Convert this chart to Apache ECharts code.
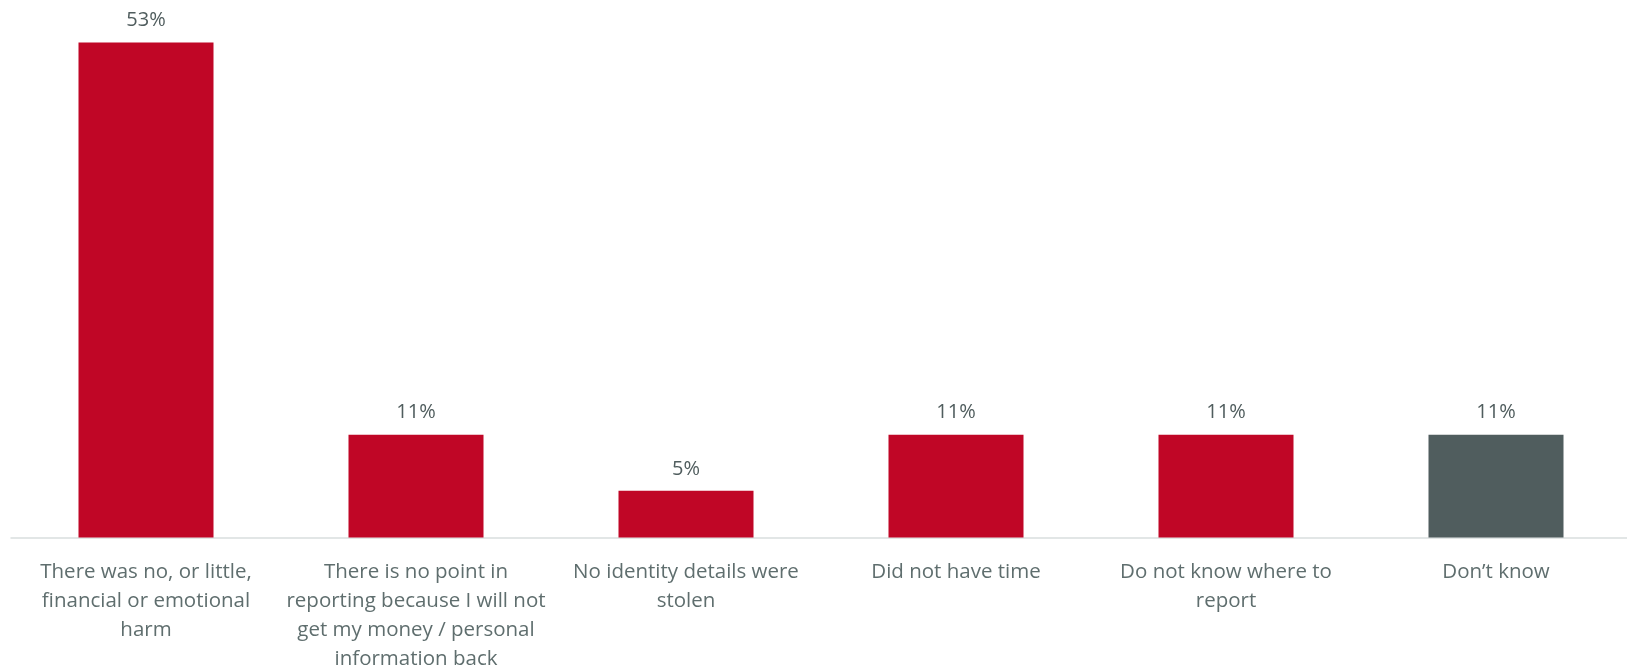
<!DOCTYPE html>
<html>
<head>
<meta charset="utf-8">
<script src="https://cdn.jsdelivr.net/npm/echarts@6/dist/echarts.min.js"></script>
<style>
  html, body { margin: 0; padding: 0; background: #ffffff; }
  #chart { width: 1627px; height: 666px; }
</style>
</head>
<body>
<div id="chart"></div>
<script>
// Reasons for not reporting
const categories = [
  'There was no, or little,\nfinancial or emotional\nharm',
  'There is no point in\nreporting because I will not\nget my money / personal\ninformation back',
  'No identity details were\nstolen',
  'Did not have time',
  'Do not know where to\nreport',
  'Don\u2019t know'
];
const values = [53, 11, 5, 11, 11, 11];
const barColors = ['#c00626', '#c00626', '#c00626', '#c00626', '#c00626', '#505d5e'];

const chart = echarts.init(document.getElementById('chart'), null, { renderer: 'canvas' });

chart.setOption({
  animation: false,
  backgroundColor: '#ffffff',
  grid: {
    left: 11, right: -4, top: 42.5, bottom: 128.5,
    containLabel: false,
    outerBoundsMode: 'none'
  },
  xAxis: {
    type: 'category',
    data: categories,
    axisLine: { show: true, lineStyle: { color: '#d9dede', width: 1.5 } },
    axisTick: { show: false },
    axisLabel: {
      interval: 0,
      margin: 20,
      color: '#5f6e6e',
      fontFamily: 'Open Sans',
      fontSize: 20.5,
      lineHeight: 29,
      align: 'center'
    }
  },
  yAxis: {
    type: 'value',
    min: 0,
    max: 53,
    show: false,
    splitLine: { show: false }
  },
  series: [{
    type: 'bar',
    data: values.map((v, i) => ({ value: v, itemStyle: { color: barColors[i] } })),
    barWidth: '50%',
    label: {
      show: true,
      position: 'top',
      distance: 12,
      formatter: p => p.value + '%',
      color: '#505d5e',
      fontFamily: 'Open Sans',
      fontSize: 20
    }
  }]
});
</script>
</body>
</html>
